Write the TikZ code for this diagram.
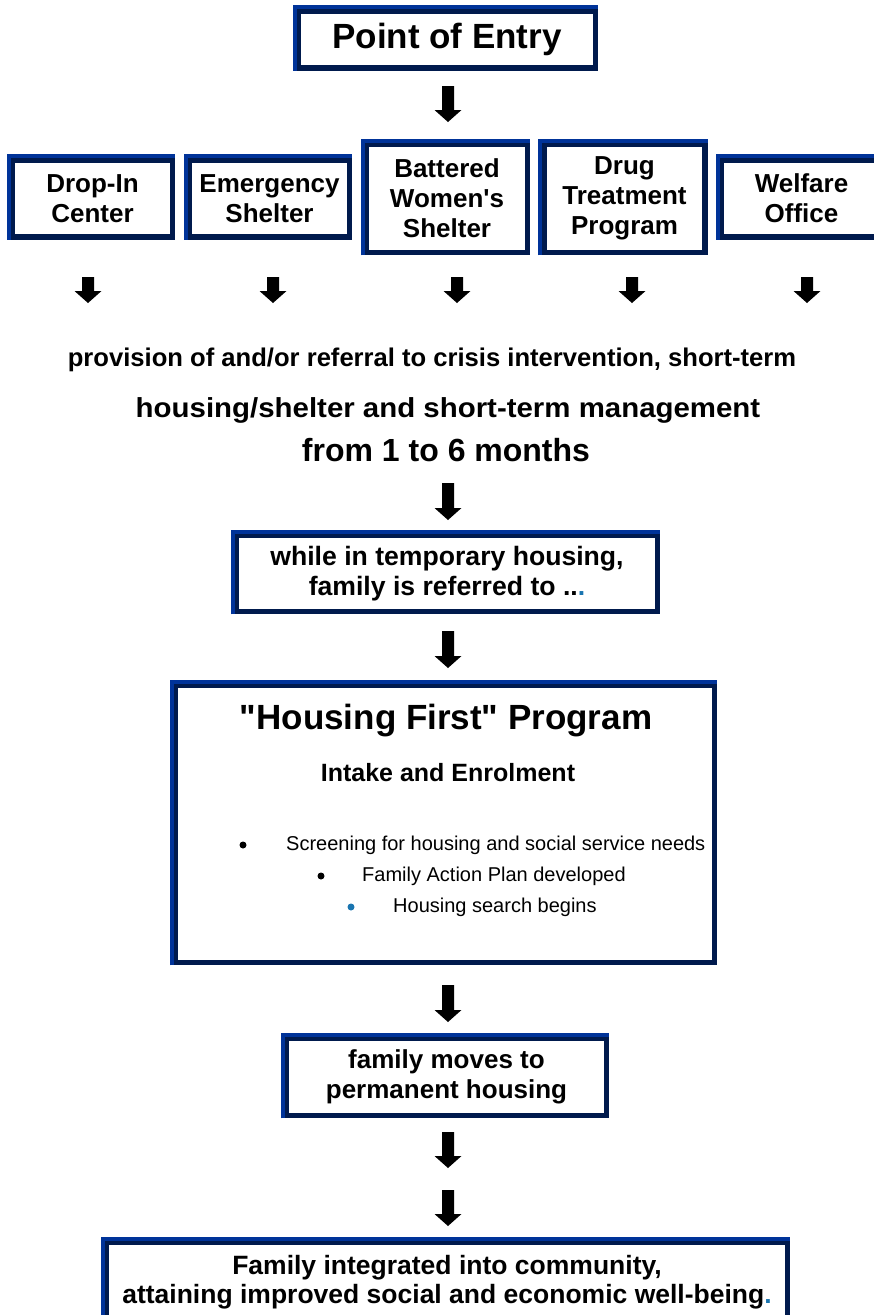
\documentclass[tikz,border=0pt]{standalone}
\usepackage{fontspec}
\setmainfont{Liberation Sans}
\usepackage{tikz}
\usetikzlibrary{positioning}

\definecolor{frameblue}{HTML}{003399}
\definecolor{framenavy}{HTML}{001A4D}
\definecolor{dotblue}{HTML}{1A75B0}

\tikzset{
	stepbox/.style={draw=framenavy,line width=5.5pt,fill=white,align=center,inner sep=0pt,
		font=\bfseries\fontsize{26}{30}\selectfont},
	rowbox/.style={stepbox,minimum width=160,minimum height=77},
	tallbox/.style={stepbox,minimum width=161,minimum height=108},
	bevel/.style={draw=frameblue,line width=4pt},
	plain/.style={align=center,inner sep=0pt,font=\bfseries\fontsize{24}{28}\selectfont},
	item/.style={plain,anchor=west,font=\fontsize{20}{24}\selectfont},
	pics/blockarrow/.style={code={
		\fill (-6,0) -- (6,0) -- (6,#1-12) -- (13.5,#1-12) -- (0,#1) -- (-13.5,#1-12) -- (-6,#1-12) -- cycle;
	}}
}
% blue upper-left edge of a box
\newcommand{\bevel}[1]{\draw[bevel] ([xshift=-1pt]#1.south west) -- ([xshift=-1pt,yshift=1pt]#1.north west) -- ([yshift=1pt]#1.north east);}

\begin{document}
\begin{tikzpicture}[x=1pt,y=-1pt]
	\useasboundingbox (0,0) rectangle (874,1315);
	% entry
	\node[stepbox,minimum width=297,minimum height=57,font=\bfseries\fontsize{35}{40}\selectfont] (entry) at (447,39.5) {Point of Entry};
	\bevel{entry}
	\pic at (448,86) {blockarrow=36};
	% row of services
	\node[rowbox] (dropin) at (92.5,198.5) {Drop-In\\Center};
	\node[rowbox] (emerg) at (269.5,198.5) {Emergency\\Shelter};
	\node[tallbox] (battered) at (447,198.5) {Battered\\Women\textquotesingle s\\Shelter};
	\node[tallbox] (drug) at (624.5,198.5) {Drug\\Treatment\\Program};
	\node[rowbox] (welfare) at (801.5,198.5) {Welfare\\Office};
	\foreach \b in {dropin,emerg,battered,drug,welfare}{\bevel{\b}}
	\foreach \x in {88,273,457,632,807}{
		\pic at (\x,277) {blockarrow=26};
	}
	% crisis stage
	\node[plain,font=\bfseries\fontsize{25.6}{30}\selectfont] (crisis) at (432,360) {provision of and/or referral to crisis intervention, short-term};
	\node[plain,font=\bfseries\fontsize{27.5}{32}\selectfont] (shelter) at (448,410) {\scalebox{1.07}[1]{housing/shelter and short-term management}};
	\node[plain,font=\bfseries\fontsize{32}{36}\selectfont] (months) at (446,450) {from 1 to 6 months};
	\pic at (448,483) {blockarrow=37};
	% temporary housing
	\node[stepbox,minimum width=421,minimum height=76,font=\bfseries\fontsize{26.6}{30}\selectfont] (temp) at (447,573.5) {while in temporary housing,\\family is referred to ..\textcolor{dotblue}{.}};
	\bevel{temp}
	\pic at (448,631) {blockarrow=37};
	% housing first
	\node[stepbox,minimum width=539,minimum height=277] (program) at (445,824) {};
	\bevel{program}
	\node[plain,font=\bfseries\fontsize{35}{40}\selectfont] (title) at (446,721) {\textquotedbl Housing First\textquotedbl\ Program};
	\node[plain,font=\bfseries\fontsize{25}{30}\selectfont] (intake) at (448,773) {Intake and Enrolment};
	\node[item] (screen) at (286,845) {Screening for housing and social service needs};
	\node[item] (plan) at (362,876) {Family Action Plan developed};
	\node[item] (search) at (393,907) {Housing search begins};
	\fill (243,845) circle (3.5);
	\fill (321,876) circle (3.5);
	\fill[dotblue] (351,907) circle (3.5);
	\pic at (448,985) {blockarrow=37};
	% permanent housing
	\node[stepbox,minimum width=320,minimum height=77] (moves) at (446.5,1077) {family moves to\\permanent housing};
	\bevel{moves}
	\pic at (448,1132) {blockarrow=36};
	\pic at (448,1190) {blockarrow=36};
	% outcome
	\node[stepbox,minimum width=681,minimum height=95] (final) at (447,1290) {};
	\bevel{final}
	\node[plain,font=\bfseries\fontsize{26.5}{29}\selectfont] (finaltext) at (447,1282) {Family integrated into community,\\attaining improved social and economic well-being\textcolor{dotblue}{.}};
\end{tikzpicture}
\end{document}
